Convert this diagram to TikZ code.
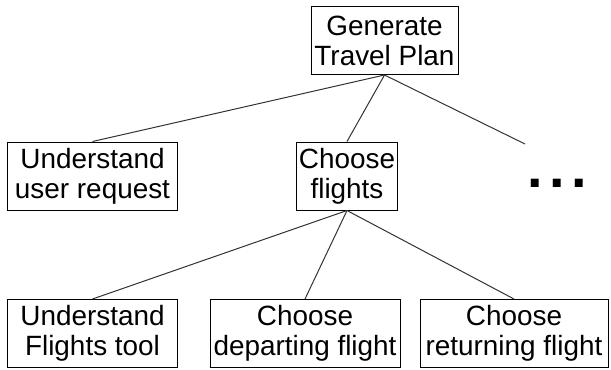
\documentclass[tikz,border=0pt]{standalone}
\usepackage{fontspec}
\setmainfont{Liberation Sans}
\usepackage{tikz}
\usetikzlibrary{positioning}
\tikzset{
	task/.style = {
			draw            = black,
			line width      = 1bp,
			align           = center,
			inner sep       = 2bp,
			minimum height  = 68bp,
			font            = \fontsize{28}{30}\selectfont,
		},
	link/.style = {draw=black!80, line width=1bp},
}

\begin{document}
\begin{tikzpicture}[x=1bp, y=-1bp]
	\useasboundingbox (0,0) rectangle (611,369);
	\node[task, minimum width=147bp] (plan) at (384.5,40.5) {Generate\\Travel Plan};
	\node[task, minimum width=169bp] (request) at (92.5,176) {Understand\\user request};
	\node[task, minimum width=96bp] (flights) at (347,176) {Choose\\flights};
	\node[font=\fontsize{56}{56}\selectfont\bfseries, inner sep=0pt, anchor=base] (more) at (557,187.5) {.\kern6.5bp.\kern6.5bp.};
	\coordinate (rest) at (525,144);
	\node[task, minimum width=169bp] (tool) at (92.5,333.5) {Understand\\Flights tool};
	\node[task, minimum width=190bp] (depart) at (305,333.5) {Choose\\departing flight};
	\node[task, minimum width=188bp] (return) at (514,333.5) {Choose\\returning flight};
	% first level
	\draw[link] (plan.south) -- (request.north);
	\draw[link] (plan.south) -- (flights.north);
	\draw[link] (plan.south) -- (rest);
	% second level
	\draw[link] (flights.south) -- (tool.north);
	\draw[link] (flights.south) -- (depart.north);
	\draw[link] (flights.south) -- (return.north);
\end{tikzpicture}
\end{document}
